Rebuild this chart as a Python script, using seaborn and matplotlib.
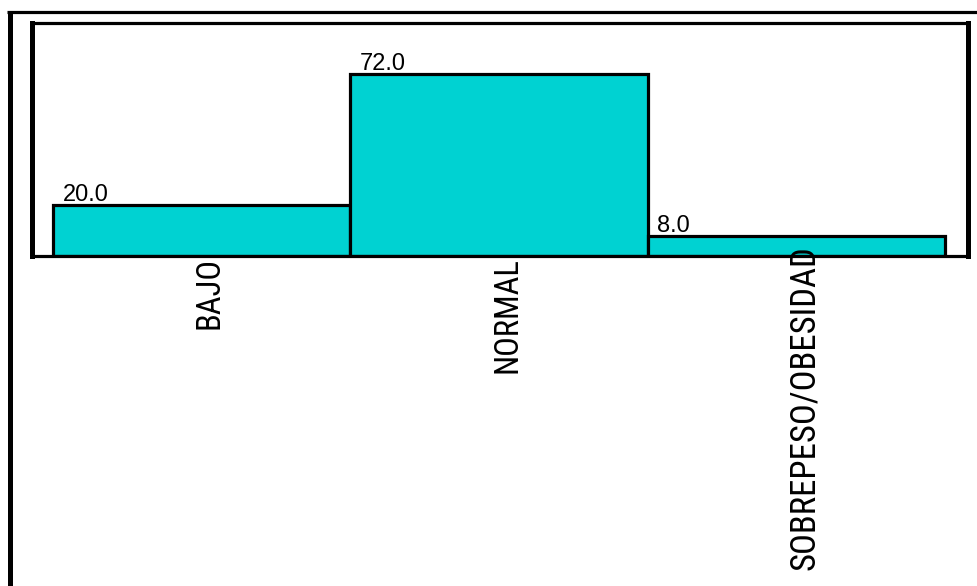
import matplotlib
matplotlib.use("Agg")
import matplotlib.pyplot as plt
import matplotlib.transforms as mtransforms
from matplotlib import font_manager
from matplotlib.lines import Line2D
import seaborn as sns

categories = ["BAJO", "NORMAL", "SOBREPESO/OBESIDAD"]
values = [20.0, 72.0, 8.0]

sns.set_theme(style="white")
plt.rcParams["font.family"] = ["Liberation Sans", "DejaVu Sans"]
plt.rcParams["text.color"] = "black"


def narrow_font():
    """Pick an installed narrow/condensed sans face for the category labels."""
    prefs = ["liberation sans narrow", "arial narrow", "roboto condensed",
             "open sans condensed", "dejavu sans condensed", "noto sans condensed"]
    found = {}
    for f in font_manager.fontManager.ttflist:
        name = f.name.lower()
        fname = f.fname.lower()
        stretch = str(f.stretch).lower()
        if f.style != "normal" or f.weight not in (400, "normal", "regular"):
            continue
        key = None
        for p in prefs:
            if p in name or p.replace(" ", "") in fname.replace("-", "").replace("_", ""):
                key = p
                break
        if key is None and ("condensed" in stretch or "narrow" in name or "condensed" in name):
            key = "other"
        if key and key not in found:
            found[key] = f.fname
    for p in prefs + ["other"]:
        if p in found:
            return font_manager.FontProperties(fname=found[p]), True
    return font_manager.FontProperties(family=["Liberation Sans", "DejaVu Sans"]), False


W, H, DPI = 978, 586, 100
fig = plt.figure(figsize=(W / DPI, H / DPI), dpi=DPI)
fig.patch.set_facecolor("white")

# plot area in pixel coordinates
left, right, top, bottom = 32, 968, 23, 256
ax = fig.add_axes([left / W, (H - bottom) / H, (right - left) / W, (bottom - top) / H])

sns.barplot(x=categories, y=values, width=1.0, color="#00D2D2", saturation=1,
            edgecolor="black", linewidth=2.3, ax=ax)

ax.set_xlim(-0.571, 2.577)
ax.set_ylim(0, 92.2)
ax.set_facecolor("white")

for side, lw in (("left", 3.6), ("right", 3.6), ("top", 2.3), ("bottom", 2.3)):
    ax.spines[side].set_visible(True)
    ax.spines[side].set_color("black")
    ax.spines[side].set_linewidth(lw)

ax.set_yticks([])
ax.set_xlabel("")
ax.set_ylabel("")

# category labels at bar centres, tick marks at bar boundaries
label_font, is_narrow = narrow_font()
label_font.set_size(23.5 if is_narrow else 20)
ax.set_xticks(range(len(categories)))
ax.set_xticklabels(categories, rotation=90, ha="center", va="top",
                   fontproperties=label_font, color="black")
ax.tick_params(axis="x", which="major", length=0, pad=1)
ax.set_xticks([i + 0.5 for i in range(len(categories) - 1)], minor=True)
ax.tick_params(axis="x", which="minor", direction="out", length=9, width=2.3, color="black")
ax.xaxis.set_zorder(3)
# nudge labels right; the long last label is raised so it fits on the page
lifts = [0, 0, 12]
sizes = [None, None, 25 if is_narrow else 21]
for lbl, lift, size in zip(ax.get_xticklabels(), lifts, sizes):
    shift = mtransforms.ScaledTranslation(8 / DPI, lift / DPI, fig.dpi_scale_trans)
    lbl.set_transform(lbl.get_transform() + shift)
    if size:
        lbl.set_fontsize(size)

# value labels above the left edge of each bar
for i, v in enumerate(values):
    ax.annotate(f"{v:.1f}", xy=(i - 0.5, v), xytext=(7, 3), textcoords="offset points",
                ha="left", va="baseline", fontsize=17, color="black")

# outer frame around the whole chart
fig.add_artist(Line2D([9.5 / W, 9.5 / W], [0, 1 - 11.5 / H], transform=fig.transFigure,
                      color="black", linewidth=3.6, solid_capstyle="butt"))
fig.add_artist(Line2D([7 / W, 1], [1 - 11.5 / H, 1 - 11.5 / H], transform=fig.transFigure,
                      color="black", linewidth=2.3, solid_capstyle="butt"))

fig.savefig("out.png", dpi=DPI)
